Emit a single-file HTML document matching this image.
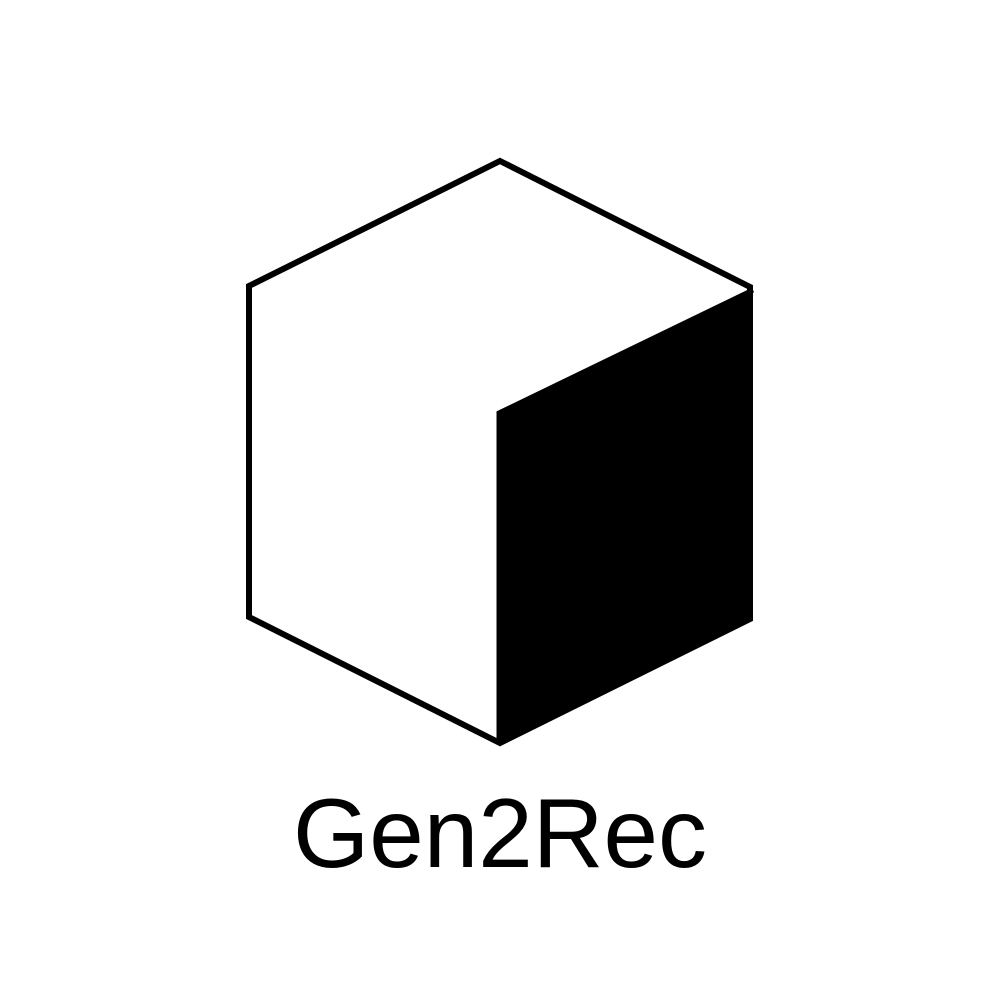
<!DOCTYPE html>
<html>
<head>
<meta charset="utf-8">
<style>
  html, body { margin: 0; padding: 0; background: #fff; }
  svg { display: block; }
</style>
</head>
<body>
<svg width="1000" height="1000" viewBox="0 0 1000 1000">
  <rect x="0" y="0" width="1000" height="1000" fill="#fff"/>
  <polygon
    points="499,413 753,290 753,620 500,743" fill="#000"/>
  <polygon
    points="500,161 750,287 750,619 500,743 249,617 249,286"
    fill="none" stroke="#000" stroke-width="6" stroke-linejoin="miter"/>
  <polyline
    points="499,743 499,413 753,290" fill="none" stroke="#000" stroke-width="5"/>
  <text
    x="500" y="867" text-anchor="middle"
    font-family="'Liberation Sans', sans-serif" font-size="98" fill="#000">Gen2Rec</text>
</svg>
</body>
</html>
